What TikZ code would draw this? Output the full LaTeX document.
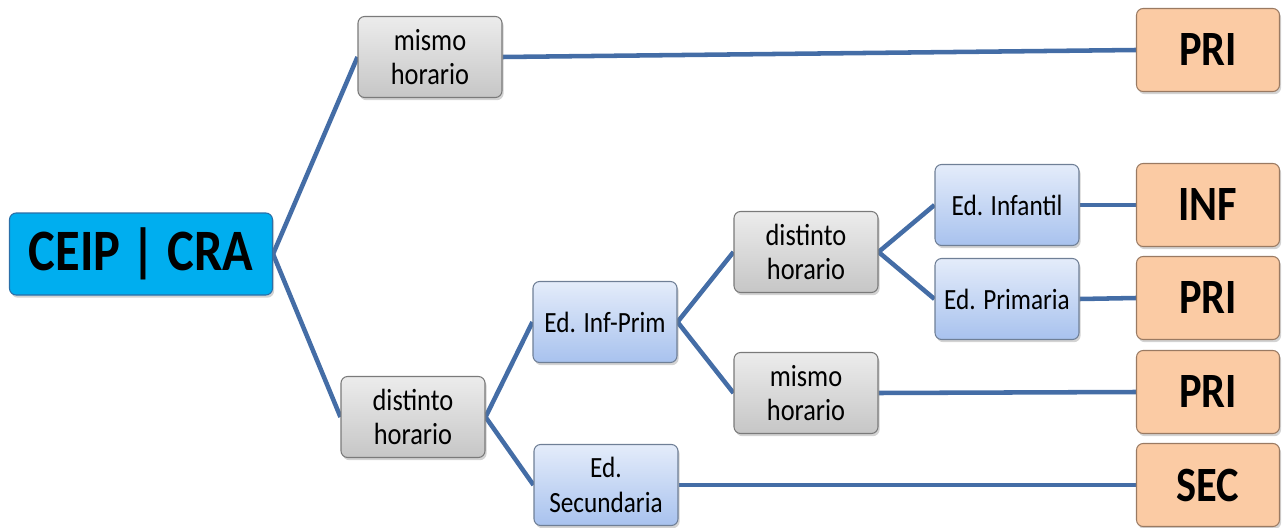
\documentclass[tikz,border=0pt]{standalone}
\usepackage{fontspec}
\setmainfont{Carlito}[FakeStretch=0.86]
\usetikzlibrary{shadows,backgrounds}
\definecolor{linec}{HTML}{446DA6}
\definecolor{rootfill}{HTML}{00AEEF}
\definecolor{rootdraw}{HTML}{2A6FA8}
\definecolor{graytop}{HTML}{ECECEC}
\definecolor{graybot}{HTML}{C6C6C6}
\definecolor{graydraw}{HTML}{7A7A7A}
\definecolor{bluetop}{HTML}{E4ECFA}
\definecolor{bluebot}{HTML}{A8C2EE}
\definecolor{bluedraw}{HTML}{6F7F96}
\definecolor{orfill}{HTML}{FBCBA4}
\definecolor{ordraw}{HTML}{9A7A62}
\tikzset{
  base/.style={rounded corners=5pt, line width=0.8pt, align=center, inner sep=0pt,
    drop shadow={opacity=0.35, shadow xshift=1.2pt, shadow yshift=-2pt}},
  rootbox/.style={base, fill=rootfill, draw=rootdraw, minimum width=197.25pt, minimum height=61.5pt,
    font=\fontsize{44}{46}\selectfont\bfseries},
  graybox/.style={base, top color=graytop, bottom color=graybot, draw=graydraw,
    minimum width=108pt, minimum height=60.75pt, font=\fontsize{23}{26}\selectfont},
  bluebox/.style={base, top color=bluetop, bottom color=bluebot, draw=bluedraw,
    minimum width=108pt, minimum height=60.75pt, font=\fontsize{22}{26}\selectfont},
  orbox/.style={base, fill=orfill, draw=ordraw, minimum width=107.25pt, minimum height=62.25pt,
    font=\fontsize{37}{40}\selectfont\bfseries},
  conn/.style={draw=linec, line width=3.4pt}
}
\begin{document}
\begin{tikzpicture}[x=0.75pt, y=-0.75pt]
\useasboundingbox (0,0) rectangle (1285,528);
\node[rootbox] (root) at (141,254) {CEIP | CRA};
\node[graybox] (mh1) at (430,57) {mismo\\horario};
\node[graybox] (dh1) at (413,417) {distinto\\horario};
\node[bluebox] (infprim) at (605,322) {Ed. Inf-Prim};
\node[bluebox] (secu) at (606,485) {Ed.\\Secundaria};
\node[graybox] (dh2) at (806,252) {distinto\\horario};
\node[graybox] (mh2) at (806,393) {mismo\\horario};
\node[bluebox] (infa) at (1007,205) {Ed. Infantil};
\node[bluebox] (prim) at (1007,299) {Ed. Primaria};
\node[orbox] (o1) at (1208,50) {PRI};
\node[orbox] (o2) at (1208,205) {INF};
\node[orbox] (o3) at (1208,298) {PRI};
\node[orbox] (o4) at (1208,392) {PRI};
\node[orbox] (o5) at (1208,485) {SEC};
\begin{scope}[on background layer]
\draw[conn] (root.east) -- (mh1.west);
\draw[conn] (root.east) -- (dh1.west);
\draw[conn] (mh1.east) -- (o1.west);
\draw[conn] (dh1.east) -- (infprim.west);
\draw[conn] (dh1.east) -- (secu.west);
\draw[conn] (infprim.east) -- (dh2.west);
\draw[conn] (infprim.east) -- (mh2.west);
\draw[conn] (dh2.east) -- (infa.west);
\draw[conn] (dh2.east) -- (prim.west);
\draw[conn] (infa.east) -- (o2.west);
\draw[conn] (prim.east) -- (o3.west);
\draw[conn] (mh2.east) -- (o4.west);
\draw[conn] (secu.east) -- (o5.west);
\end{scope}
\end{tikzpicture}
\end{document}
